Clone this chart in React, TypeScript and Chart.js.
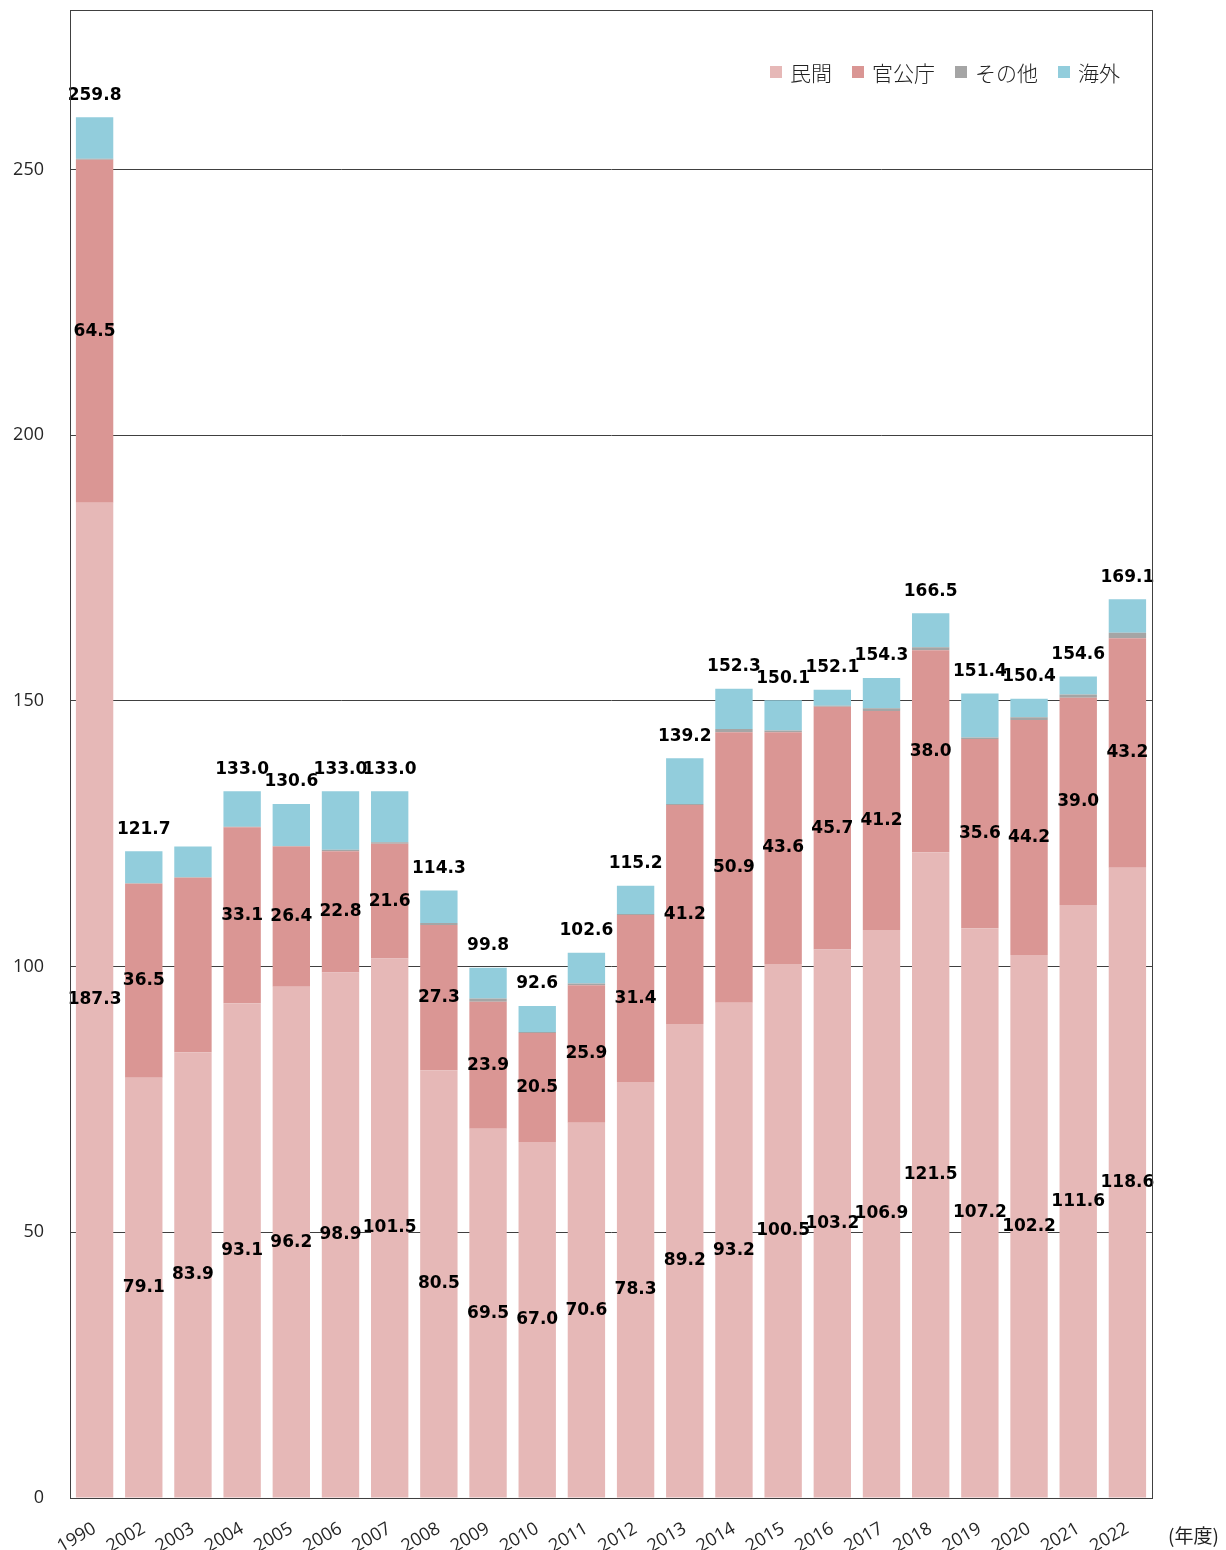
import React, { useEffect, useRef } from "react";
import { Chart, registerables } from "chart.js";

Chart.register(...registerables);

const years = ["1990", "2002", "2003", "2004", "2005", "2006", "2007", "2008", "2009", "2010", "2011", "2012", "2013", "2014", "2015", "2016", "2017", "2018", "2019", "2020", "2021", "2022"];
const privateValues = [187.3, 79.1, 83.9, 93.1, 96.2, 98.9, 101.5, 80.5, 69.5, 67.0, 70.6, 78.3, 89.2, 93.2, 100.5, 103.2, 106.9, 121.5, 107.2, 102.2, 111.6, 118.6];
const govValues = [64.5, 36.5, 32.8, 33.1, 26.4, 22.8, 21.6, 27.3, 23.9, 20.5, 25.9, 31.4, 41.2, 50.9, 43.6, 45.7, 41.2, 38.0, 35.6, 44.2, 39.0, 43.2];
const otherValues = [0.2, 0.1, 0.1, 0.1, 0.1, 0.3, 0.3, 0.4, 0.6, 0.2, 0.3, 0.2, 0.2, 0.6, 0.3, 0.2, 0.5, 0.6, 0.3, 0.5, 0.6, 1.0];
const overseasValues = [7.8, 6.0, 5.8, 6.7, 7.9, 11.0, 9.6, 6.1, 5.8, 4.9, 5.8, 5.3, 8.6, 7.6, 5.7, 3.0, 5.7, 6.4, 8.3, 3.5, 3.4, 6.3];
const totalLabels = ["259.8", "121.7", null, "133.0", "130.6", "133.0", "133.0", "114.3", "99.8", "92.6", "102.6", "115.2", "139.2", "152.3", "150.1", "152.1", "154.3", "166.5", "151.4", "150.4", "154.6", "169.1"];
const hiddenGovLabelYears = ["2003"];
const seriesNames = ["民間", "官公庁", "その他", "海外"];
const seriesColors = ["#e6b8b7", "#da9694", "#a5a5a5", "#92cddc"];
const yTicks = [0, 50, 100, 150, 200, 250];
const unitLabel = "(年度)";

const LABEL_FONT = 'bold 17px "DejaVu Sans"';
const TICK_FONT = { family: '"Open Sans"', size: 18 };

export default function App() {
  const ref = useRef<HTMLCanvasElement>(null);

  useEffect(() => {
    document.body.style.overflow = "hidden";
    const canvas = ref.current;
    if (!canvas) return;

    const decorPlugin = {
      id: "decor",
      afterDatasetsDraw(chart: any) {
        const ctx = chart.ctx;
        ctx.save();
        ctx.font = LABEL_FONT;
        ctx.fillStyle = "#000";
        ctx.textAlign = "center";
        ctx.textBaseline = "middle";
        [0, 1].forEach((di) => {
          const meta = chart.getDatasetMeta(di);
          const vals = di === 0 ? privateValues : govValues;
          meta.data.forEach((el: any, i: number) => {
            if (di === 1 && hiddenGovLabelYears.includes(years[i])) return;
            const p = el.getProps(["x", "y", "base"], true);
            ctx.fillText(vals[i].toFixed(1), p.x, (p.y + p.base) / 2);
          });
        });
        const topMeta = chart.getDatasetMeta(3);
        topMeta.data.forEach((el: any, i: number) => {
          const t = totalLabels[i];
          if (!t) return;
          const p = el.getProps(["x", "y"], true);
          ctx.fillText(t, p.x, p.y - 22);
        });
        ctx.restore();
      },
      afterDraw(chart: any) {
        const ctx = chart.ctx;
        const a = chart.chartArea;
        ctx.save();
        ctx.strokeStyle = "#404040";
        ctx.lineWidth = 1;
        ctx.strokeRect(Math.round(a.left) + 0.5, Math.round(a.top) + 0.5, Math.round(a.right - a.left), Math.round(a.bottom - a.top));
        ctx.font = '300 21px "Noto Sans CJK JP"';
        ctx.textBaseline = "middle";
        ctx.textAlign = "left";
        const box = 12;
        const gapBoxText = 8;
        const gapItems = 20;
        const widths = seriesNames.map((n) => ctx.measureText(n).width);
        let total = 0;
        widths.forEach((w, i) => {
          total += box + gapBoxText + w + (i < widths.length - 1 ? gapItems : 0);
        });
        let x = a.right - 32 - total;
        const cy = a.top + 62;
        seriesNames.forEach((n, i) => {
          ctx.fillStyle = seriesColors[i];
          ctx.fillRect(x, cy - box / 2, box, box);
          ctx.fillStyle = "#222";
          ctx.fillText(n, x + box + gapBoxText, cy + 1);
          x += box + gapBoxText + widths[i] + gapItems;
        });
        ctx.font = '19px "Noto Sans CJK JP"';
        ctx.fillStyle = "#222";
        ctx.fillText(unitLabel, a.right + 16, a.bottom + 38);
        ctx.restore();
      },
    };

    const chart = new Chart(canvas, {
      type: "bar",
      data: {
        labels: years,
        datasets: [privateValues, govValues, otherValues, overseasValues].map((d, i) => ({
          label: seriesNames[i],
          data: d,
          backgroundColor: seriesColors[i],
          borderWidth: 0,
          barPercentage: 0.76,
          categoryPercentage: 1,
        })),
      },
      options: {
        animation: false,
        responsive: false,
        devicePixelRatio: 1,
        layout: { padding: { top: 2, right: 74, left: 0, bottom: 0 } },
        plugins: {
          legend: { display: false },
          tooltip: { enabled: false },
        },
        scales: {
          x: {
            stacked: true,
            grid: { display: false },
            border: { display: true, color: "#404040", width: 1 },
            ticks: {
              font: TICK_FONT,
              color: "#262626",
              minRotation: 30,
              maxRotation: 30,
              autoSkip: false,
              padding: 12,
            },
            afterFit: (s: any) => {
              s.height = 52;
            },
          },
          y: {
            stacked: true,
            min: 0,
            max: 280,
            grid: { color: "#404040", lineWidth: 1, drawTicks: false },
            border: { display: true, color: "#404040", width: 1 },
            ticks: {
              stepSize: 50,
              padding: 26,
              font: TICK_FONT,
              color: "#262626",
            },
            afterBuildTicks: (s: any) => {
              s.ticks = yTicks.map((v) => ({ value: v }));
            },
            afterFit: (s: any) => {
              s.width = 62;
              s.paddingTop = 0;
              s.paddingBottom = 0;
            },
          },
        },
      },
      plugins: [decorPlugin],
    });

    return () => chart.destroy();
  }, []);

  return (
    <div style={{ width: 1218, height: 1542 }}>
      <canvas ref={ref} width={1218} height={1542} style={{ display: "block", width: 1218, height: 1542 }} />
    </div>
  );
}
